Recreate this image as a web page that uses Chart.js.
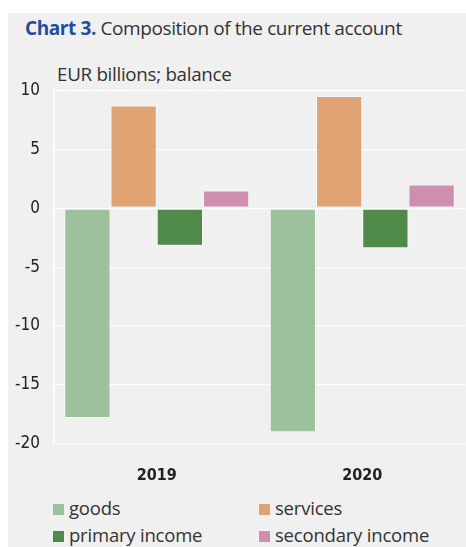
<!DOCTYPE html>
<html><head><meta charset="utf-8">
<script src="https://cdn.jsdelivr.net/npm/chart.js@4"></script>
<style>
html,body{margin:0;padding:0;background:#fff;width:466px;height:547px;overflow:hidden;}
#panel{position:absolute;left:8px;top:13px;width:458px;height:534px;background:#f0f0f0;}
#title{position:absolute;left:25px;top:15px;font-family:"Open Sans","Noto Sans",sans-serif;font-size:19px;color:#333;letter-spacing:-0.4px;white-space:nowrap;}
#title b{color:#1f4e9c;font-weight:700;}
#unit{position:absolute;left:57px;top:61px;font-family:"Open Sans","Noto Sans",sans-serif;font-size:18.8px;color:#333;letter-spacing:-0.3px;white-space:nowrap;}
#wrap{position:absolute;left:0;top:66px;width:466px;height:424px;}
.lg{position:absolute;font-family:"Open Sans","Noto Sans",sans-serif;font-size:18.5px;color:#333;white-space:nowrap;letter-spacing:-0.2px;}
.lg span{display:inline-block;width:11px;height:11px;margin-right:5px;vertical-align:0px;}
</style></head>
<body>
<div id="panel"></div>
<div id="title"><b>Chart 3.</b> Composition of the current account</div>
<div id="unit">EUR billions; balance</div>
<div id="wrap"><canvas id="c" width="466" height="424"></canvas></div>
<div id="legend"></div>
<script>
const categories = ["2019", "2020"];
const seriesNames = ["goods", "services", "primary income", "secondary income"];
const goods = [-17.8, -19.0];
const services = [8.7, 9.5];
const primaryIncome = [-3.2, -3.4];
const secondaryIncome = [1.5, 2.0];
const yTicks = [10, 5, 0, -5, -10, -15, -20];
const colors = ["#9dc09d", "#e0a373", "#4f8a4a", "#cf8eae"];

const seriesData = [goods, services, primaryIncome, secondaryIncome];
const legendPos = [[53,495],[259,495],[53,522],[259,522]];
const lg = document.getElementById('legend');
seriesNames.forEach((n,i)=>{
  const d=document.createElement('div');d.className='lg';
  d.style.left=legendPos[i][0]+'px';d.style.top=legendPos[i][1]+'px';
  d.innerHTML='<span style="background:'+colors[i]+'"></span>'+n;
  lg.appendChild(d);
});

new Chart(document.getElementById('c'), {
  type: 'bar',
  data: {
    labels: categories,
    datasets: seriesNames.map((n,i)=>({
      label:n, data:seriesData[i], backgroundColor:colors[i],
      borderColor:'rgba(255,255,255,0.45)', borderWidth:1, borderSkipped:false
    }))
  },
  options: {
    responsive:false, animation:false,
    layout:{padding:{top:9,right:1,left:0,bottom:0}},
    plugins:{legend:{display:false},tooltip:{enabled:false}},
    datasets:{bar:{categoryPercentage:0.9,barPercentage:1.0}},
    scales:{
      x:{
        grid:{display:false},
        border:{display:false},
        ticks:{color:'#222',font:{family:'"Liberation Sans Narrow","DejaVu Sans Condensed",sans-serif',size:16,weight:'bold'},padding:14},
        afterFit:(s)=>{s.height=46;}
      },
      y:{
        min:-20,max:10,
        afterBuildTicks:(s)=>{s.ticks=yTicks.map(v=>({value:v}));},
        grid:{color:'#ffffff',lineWidth:1.2,drawTicks:false},
        border:{display:true,color:'#ffffff',width:1.5},
        ticks:{color:'#222',font:{family:'"Liberation Sans Narrow","DejaVu Sans Condensed",sans-serif',size:17},padding:14},
        afterFit:(s)=>{s.width=54;}
      }
    }
  }
});
</script>
</body></html>
